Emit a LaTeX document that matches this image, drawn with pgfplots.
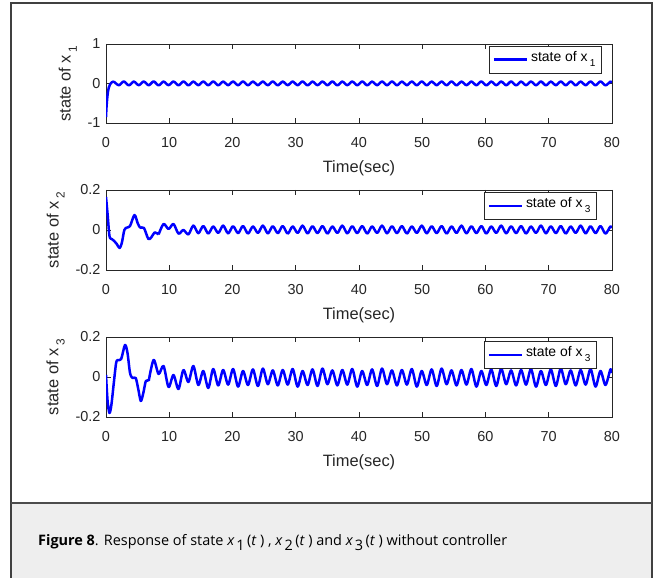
\documentclass[border=0pt]{standalone}
\usepackage{fontspec}
\setmainfont{Liberation Sans}
\newfontfamily\capfont{Open Sans}
\usepackage{pgfplots}
\pgfplotsset{compat=1.18}
\usepackage{pgfplotstable}

\definecolor{axgray}{RGB}{38,38,38}
\definecolor{capbg}{RGB}{238,238,238}
\newcommand{\sub}[1]{\raisebox{-0.38em}{\scalebox{0.72}{#1}}}
\newcommand{\mx}[1]{\textit{x}\kern1.8bp\raisebox{-0.36em}{#1}\kern2.5bp(\textit{t}\kern3.5bp)}

\pgfplotstableread{
t x
0 -0.85
0.08 -0.6
0.18 -0.4
0.3 -0.22
0.45 -0.1
0.65 -0.02
0.9 0.03
1.25 0.05
}\xonetr

\pgfplotstableread{
t x
0 0.165
0.25 0.08
0.55 -0.03
0.9 -0.045
1.3 -0.055
1.7 -0.07
2.15 -0.09
2.5 -0.065
2.9 0.0
3.3 0.012
3.8 0.02
4.5 0.075
5.0 0.035
5.4 0.012
6.0 0.01
6.7 -0.045
7.2 -0.035
7.7 -0.012
8.32 -0.022
}\xtwotr

\pgfplotstableread{
t x
0 0.01
0.25 -0.12
0.55 -0.18
0.85 -0.14
1.2 -0.04
1.6 0.07
1.9 0.085
2.4 0.09
3.0 0.16
3.4 0.12
3.8 0.02
4.2 -0.005
4.7 -0.005
5.1 -0.06
5.5 -0.12
5.9 -0.08
6.3 -0.02
6.75 -0.02
}\xthreetr

\pgfplotstableread{
t x1 x2 x3
1.25 0.050 0 0
2.04 -0.045 0 0
2.82 0.052 0 0
3.61 -0.047 0 0
4.39 0.048 0 0
5.18 -0.043 0 0
5.96 0.050 0 0
6.75 -0.045 0 -0.020
7.53 0.052 0 0.085
8.32 -0.047 -0.022 0.015
9.10 0.048 0.030 0.055
9.89 -0.043 0.005 -0.050
10.67 0.050 0.030 0.010
11.46 -0.045 -0.018 -0.060
12.24 0.052 0.000 0.035
13.03 -0.047 -0.022 -0.025
13.81 0.048 0.022 0.055
14.60 -0.043 -0.016 -0.040
15.38 0.050 0.020 0.030
16.17 -0.045 -0.018 -0.055
16.95 0.052 0.018 0.040
17.74 -0.047 -0.015 -0.042
18.52 0.048 0.022 0.035
19.31 -0.043 -0.017 -0.038
20.09 0.050 0.019 0.040
20.88 -0.045 -0.016 -0.048
21.66 0.052 0.020 0.030
22.45 -0.047 -0.018 -0.040
23.23 0.048 0.018 0.038
24.02 -0.043 -0.015 -0.045
24.80 0.050 0.022 0.042
25.59 -0.045 -0.017 -0.036
26.37 0.052 0.019 0.033
27.16 -0.047 -0.016 -0.042
27.94 0.048 0.020 0.035
28.73 -0.043 -0.018 -0.038
29.51 0.050 0.018 0.040
30.30 -0.045 -0.015 -0.048
31.08 0.052 0.022 0.030
31.87 -0.047 -0.017 -0.040
32.65 0.048 0.019 0.038
33.44 -0.043 -0.016 -0.045
34.22 0.050 0.020 0.042
35.01 -0.045 -0.018 -0.036
35.79 0.052 0.018 0.033
36.58 -0.047 -0.015 -0.042
37.36 0.048 0.022 0.035
38.15 -0.043 -0.017 -0.038
38.93 0.050 0.019 0.040
39.72 -0.045 -0.016 -0.048
40.50 0.052 0.020 0.030
41.29 -0.047 -0.018 -0.040
42.07 0.048 0.018 0.038
42.86 -0.043 -0.015 -0.045
43.64 0.050 0.022 0.042
44.43 -0.045 -0.017 -0.036
45.21 0.052 0.019 0.033
46.00 -0.047 -0.016 -0.042
46.78 0.048 0.020 0.035
47.57 -0.043 -0.018 -0.038
48.35 0.050 0.018 0.040
49.14 -0.045 -0.015 -0.048
49.92 0.052 0.022 0.030
50.71 -0.047 -0.017 -0.040
51.49 0.048 0.019 0.038
52.28 -0.043 -0.016 -0.045
53.06 0.050 0.020 0.042
53.85 -0.045 -0.018 -0.036
54.63 0.052 0.018 0.033
55.42 -0.047 -0.015 -0.042
56.20 0.048 0.022 0.035
56.99 -0.043 -0.017 -0.038
57.77 0.050 0.019 0.040
58.56 -0.045 -0.016 -0.048
59.34 0.052 0.020 0.030
60.13 -0.047 -0.018 -0.040
60.91 0.048 0.018 0.038
61.70 -0.043 -0.015 -0.045
62.48 0.050 0.022 0.042
63.27 -0.045 -0.017 -0.036
64.05 0.052 0.019 0.033
64.84 -0.047 -0.016 -0.042
65.62 0.048 0.020 0.035
66.41 -0.043 -0.018 -0.038
67.19 0.050 0.018 0.040
67.98 -0.045 -0.015 -0.048
68.76 0.052 0.022 0.030
69.55 -0.047 -0.017 -0.040
70.33 0.048 0.019 0.038
71.12 -0.043 -0.016 -0.045
71.90 0.050 0.020 0.042
72.69 -0.045 -0.018 -0.036
73.47 0.052 0.018 0.033
74.26 -0.047 -0.015 -0.042
75.04 0.048 0.022 0.035
75.83 -0.043 -0.017 -0.038
76.61 0.050 0.019 0.040
77.40 -0.045 -0.016 -0.048
78.18 0.052 0.020 0.030
78.97 -0.047 -0.018 -0.040
79.75 0.048 0.018 0.038
80.00 0.030 0.010 0.020
}\steady

\pgfplotsset{
 mstyle/.style={
   scale only axis, width=506bp,
   xmin=0, xmax=80, xtick={0,10,...,80},
   xticklabels={0,10,20,30,40,50,60,70,80},
   tick align=inside, major tick length=5bp,
   axis line style={axgray, line width=0.6bp},
   every tick/.style={axgray, line width=0.6bp},
   tick label style={font=\fontsize{14.5}{14.5}\selectfont, text=axgray},
   xticklabel style={yshift=-10.5bp},
   yticklabel style={xshift=-2bp},
   label style={font=\fontsize{16.5}{16.5}\selectfont, text=axgray},
   xlabel style={yshift=-6.5bp},
   ylabel shift=4bp,
   xlabel={Time(sec)},
   legend style={draw=axgray, line width=0.6bp,
     font=\fontsize{14}{14}\selectfont, anchor=north east,
     inner xsep=3bp, inner ysep=3.5bp,
     nodes={inner sep=3bp, text height=0.85em, text depth=0.55em},
     /tikz/every even column/.append style={column sep=3bp}},
   legend image code/.code={\draw[blue, line width=2.5bp] (0bp,0bp) -- (33bp,0bp);},
 },
 cur/.style={blue, line width=2.5bp, line join=round, smooth, tension=0.5, no markers},
}

\begin{document}
\begin{tikzpicture}
\useasboundingbox (0,0) rectangle (655bp,578bp);
\fill[capbg] (11bp,0) rectangle (652bp,75bp);
\draw[line width=1.2bp, black!75] (11bp,0) -- (11bp,575bp) -- (652bp,575bp) -- (652bp,0);
\draw[line width=2bp, black!70] (11bp,75bp) -- (652bp,75bp);

\begin{axis}[mstyle, at={(106bp,455bp)}, anchor=south west, height=79bp,
  ymin=-1, ymax=1, ytick={-1,0,1}, yticklabels={-1,0,1},
  ylabel={state of x\,\sub{1}},
  legend style={at={(0.98,0.975)}}]
\addplot[cur] table[x=t,y=x] {\xonetr};
\addlegendentry{state of x\,\sub{1}}
\addplot[cur, forget plot] table[x=t,y=x1] {\steady};
\end{axis}

\begin{axis}[mstyle, at={(106bp,308bp)}, anchor=south west, height=80bp,
  ymin=-0.2, ymax=0.2, ytick={-0.2,0,0.2}, yticklabels={-0.2,0,0.2},
  ylabel={state of x\,\sub{2}},
  legend style={at={(0.97,0.975)}}]
\addplot[cur] table[x=t,y=x] {\xtwotr};
\addlegendentry{state of x\,\sub{3}}
\addplot[cur, forget plot, skip coords between index={0}{9}] table[x=t,y=x2] {\steady};
\end{axis}

\begin{axis}[mstyle, at={(106bp,161bp)}, anchor=south west, height=80bp,
  ymin=-0.2, ymax=0.2, ytick={-0.2,0,0.2}, yticklabels={-0.2,0,0.2},
  ylabel={state of x\,\sub{3}},
  legend style={at={(0.97,0.95)}}]
\addplot[cur] table[x=t,y=x] {\xthreetr};
\addlegendentry{state of x\,\sub{3}}
\addplot[cur, forget plot, skip coords between index={0}{7}] table[x=t,y=x3] {\steady};
\end{axis}

\node[anchor=base west, inner sep=0pt, font=\capfont\fontsize{14.5}{14.5}\selectfont] at (38bp,33bp)
  {\textbf{Figure 8}. Response of state \mx{1} , \mx{2} and \mx{3} without controller};
\end{tikzpicture}
\end{document}
